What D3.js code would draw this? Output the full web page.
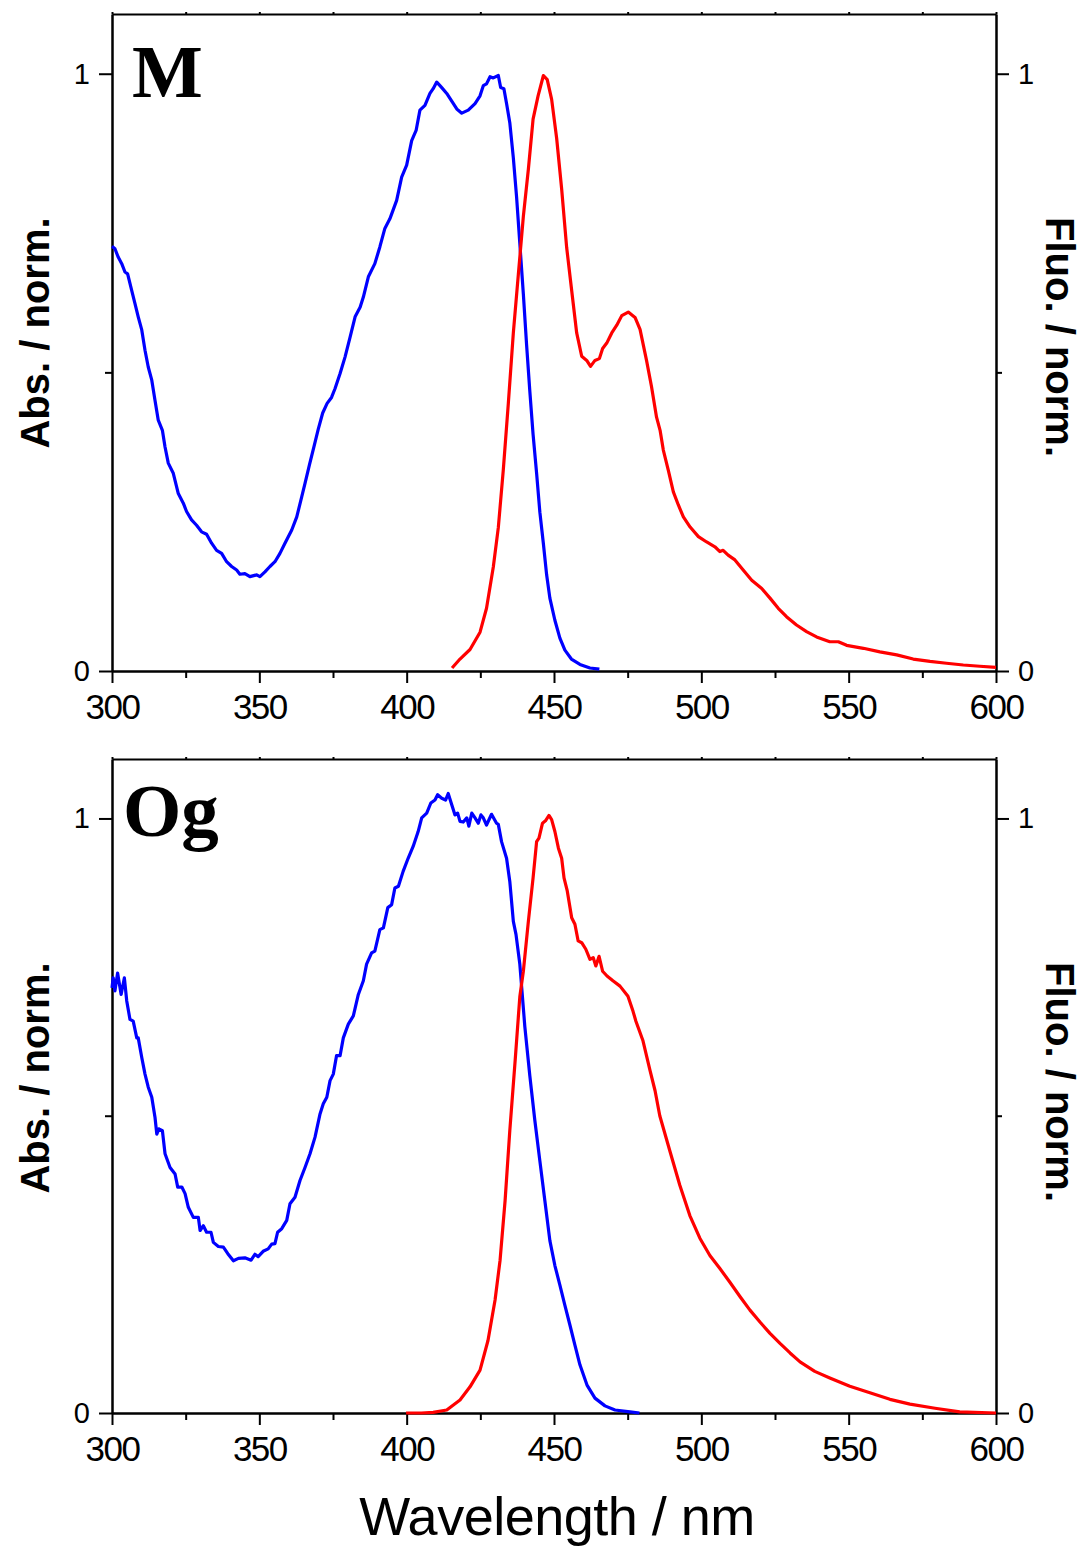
<!DOCTYPE html>
<html>
<head>
<meta charset="utf-8">
<script src="https://cdn.jsdelivr.net/npm/d3@7"></script>
<style>
  body { margin: 0; background: #fff; }
  svg { display: block; }
  .axis path, .axis line { stroke: #000; stroke-width: 2; }
  .axis text { fill: #000; font-family: 'Liberation Sans', Arial, sans-serif; }
  .xlab text { font-size: 35px; letter-spacing: -1.5px; }
  .ylab text { font-size: 29px; }
  .title { font-family: 'Liberation Sans', Arial, sans-serif; fill: #000; }
</style>
</head>
<body>
<script>
// wavelength (nm), normalised intensity
const mAbs = [[300,.711],[301,.707],[302.1,.693],[303.3,.682],[304.4,.668],[305.3,.665],[306.7,.637],[307.8,.615],[308.9,.593],[310.1,.571],[311.2,.537],[312.3,.509],[313.5,.487],[314.6,.453],[315.7,.420],[317.1,.403],[318,.375],[319.1,.348],[320.8,.331],[322.5,.297],[324.2,.281],[325.3,.267],[327,.253],[328.7,.244],[330.4,.233],[332.1,.229],[333.8,.214],[335.5,.202],[337.2,.197],[338.9,.183],[340.6,.175],[342.3,.169],[343.4,.162],[345.1,.163],[346.8,.158],[349.1,.161],[350.2,.158],[351.9,.166],[353.6,.175],[355.3,.183],[357,.197],[358.7,.214],[361,.236],[362.7,.258],[364.4,.292],[365.5,.314],[367,.345],[368.5,.375],[370,.405],[371.5,.432],[373,.448],[374.5,.458],[375.7,.473],[377.4,.498],[379.1,.526],[380.8,.559],[382.5,.593],[384.2,.609],[385.3,.626],[387,.660],[389.2,.682],[390.9,.710],[392.6,.741],[394.3,.757],[396.6,.788],[398.3,.827],[400,.847],[401.7,.888],[403.2,.905],[404.5,.939],[406.2,.947],[407.9,.967],[409,.975],[410.2,.986],[411.3,.980],[412.2,.975],[413.6,.967],[415.3,.954],[417,.941],[418.7,.934],[420.9,.939],[423.2,.950],[424.9,.963],[426,.980],[427.1,.983],[428.3,.995],[429.4,.993],[431.1,.997],[431.9,.977],[433,.975],[433.9,.950],[435,.918],[436.2,.859],[437.3,.794],[438.4,.716],[439.6,.631],[440.7,.546],[441.8,.468],[442.9,.396],[444.1,.331],[445.2,.266],[446.4,.213],[447.5,.161],[448.6,.122],[450.3,.085],[452,.055],[453.7,.035],[455.9,.020],[458.8,.011],[462.2,.005],[465.4,.003]]

const mFlu = [[415.4,.005],[418.1,.020],[421.5,.036],[424.9,.065],[427.1,.105],[429.4,.174],[431.1,.240],[432.8,.337],[434.5,.448],[436.2,.566],[437.9,.664],[439.6,.761],[441.3,.840],[442.9,.924],[444.6,.963],[446.4,.997],[447.7,.990],[449.2,.957],[450.9,.892],[452.6,.807],[454.3,.709],[456,.637],[457.7,.566],[459.4,.527],[461.1,.520],[462.4,.510],[463.9,.520],[465.4,.523],[466.5,.540],[467.9,.549],[469.6,.566],[471.3,.579],[473,.595],[475.2,.601],[477.5,.592],[479.2,.572],[481.4,.520],[483.1,.476],[484.8,.425],[486,.403],[487.1,.370],[488.8,.336],[490.5,.300],[492.2,.278],[493.9,.258],[496.2,.241],[499,.225],[501.8,.216],[504.6,.208],[506.3,.200],[507.4,.202],[509.1,.194],[511.4,.186],[514.2,.169],[517.1,.152],[520.5,.138],[523.3,.122],[526.1,.105],[528.9,.091],[532.3,.077],[535.7,.066],[539.1,.057],[543.6,.049],[546.5,.049],[549.3,.043],[555,.038],[560.6,.032],[566.3,.027],[571.9,.020],[577.6,.016],[583.2,.013],[588.9,.010],[594.5,.008],[600,.006]]

const ogAbs = [[300,.715],[300.4,.732],[301,.710],[301.9,.740],[303.1,.704],[304.2,.732],[305,.693],[306.1,.662],[307.2,.659],[308.4,.631],[308.9,.631],[310.1,.598],[311.2,.570],[312.3,.548],[313.5,.531],[314.6,.497],[315.2,.469],[315.9,.478],[317.1,.475],[318,.436],[319.7,.413],[321.4,.402],[322.3,.380],[323.7,.380],[324.8,.369],[325.9,.346],[327.6,.329],[329.3,.329],[329.9,.307],[331,.315],[332.1,.304],[333.6,.304],[334.4,.287],[336.1,.280],[337.8,.279],[339.3,.268],[341.2,.256],[342.9,.260],[345.1,.261],[347.2,.257],[348.5,.267],[349.6,.263],[351.3,.272],[353,.276],[354.2,.284],[355.3,.285],[356.2,.304],[357.6,.310],[359.3,.324],[360.4,.352],[362.1,.363],[363.8,.391],[365.5,.413],[367.2,.436],[368.9,.464],[370.6,.503],[371.7,.520],[372.9,.531],[374,.559],[375.1,.570],[376.2,.601],[377.4,.601],[378.5,.631],[380.2,.654],[381.9,.668],[383.6,.704],[385.3,.727],[386.4,.755],[388.1,.774],[389.2,.777],[390.9,.813],[392.1,.816],[393.6,.850],[394.9,.855],[396,.883],[397.2,.886],[398.8,.911],[400.5,.933],[402.2,.953],[403.9,.978],[405.1,1.001],[406.8,1.009],[408.2,1.026],[409.6,1.031],[410.5,1.040],[411.9,1.034],[413.2,1.031],[414.1,1.042],[415.3,1.023],[416.4,1.006],[417.3,1.009],[418.1,.995],[419.2,.994],[420.4,1.001],[421.1,.987],[422.1,1.009],[423.2,1.001],[424.3,.992],[425.2,1.006],[426,1.001],[427.1,.989],[428.8,1.007],[430.5,.992],[431.1,.990],[432.2,.961],[433.9,.933],[435,.894],[436.2,.827],[437.1,.805],[438.4,.755],[440.1,.650],[441.8,.567],[443.5,.492],[445.2,.424],[446.9,.357],[448.6,.290],[450.3,.248],[452,.215],[453.7,.181],[455.4,.148],[457.1,.114],[458.8,.081],[461.2,.047],[463.9,.025],[467.3,.012],[470.7,.005],[475.8,.002],[479,0]]

const ogFlu = [[399.8,0],[405,0],[409,.001],[413.6,.005],[418.1,.022],[421.5,.044],[424.9,.072],[427.6,.122],[430,.190],[431.7,.257],[433.4,.357],[435,.475],[436.8,.592],[438.4,.700],[439.6,.743],[441.3,.827],[442.9,.900],[444.1,.961],[444.9,.967],[446.1,.992],[447.1,.996],[448.3,1.005],[449.2,.998],[450.3,.978],[451.5,.950],[452.6,.933],[453.4,.900],[454.5,.878],[456,.833],[457.1,.822],[458.2,.794],[459.4,.791],[460.8,.780],[462.2,.763],[463.3,.766],[464.2,.752],[465.3,.768],[466.5,.743],[468,.735],[470,.727],[472.4,.718],[475.1,.701],[476.8,.676],[477.8,.659],[480.2,.626],[482.6,.576],[484.3,.542],[485.9,.500],[489.3,.441],[492.7,.383],[496.1,.332],[499.5,.294],[502.9,.265],[506.3,.243],[509.7,.220],[513.1,.196],[516.5,.173],[519.9,.153],[523.3,.134],[526.7,.117],[530.1,.101],[533.5,.086],[538.5,.070],[543.6,.059],[550.4,.045],[557.2,.034],[564,.023],[570.8,.015],[579.3,.008],[587.7,.002],[600,0]]

const xMajor = [300, 350, 400, 450, 500, 550, 600]
const xMinor = [325, 375, 425, 475, 525, 575]
const yMajor = [0, 1]
const yMinor = [0.5]
const panelNames = ['M', 'Og']

const width = 1086, height = 1549
const svg = d3.select('body').append('svg')
    .attr('width', width)
    .attr('height', height)

const panels = [
  {name: panelNames[0], abs: mAbs, flu: mFlu, top: 14, bottom: 671, lx: 132, ly: 97, ty: 333},
  {name: panelNames[1], abs: ogAbs, flu: ogFlu, top: 759, bottom: 1413, lx: 123, ly: 836, ty: 1078}
]

const x = d3.scaleLinear().domain([300, 600]).range([112, 996])

panels.forEach(function(p) {
  const y = d3.scaleLinear().domain([0, 1.1]).range([p.bottom, p.top])
  const g = svg.append('g')

  // frame + ticks
  g.append('g')
      .attr('class', 'axis')
      .attr('transform', 'translate(0,' + p.top + ')')
      .call(d3.axisTop(x).tickValues(xMajor.concat(xMinor)).tickSize(2).tickSizeOuter(0).tickFormat(''))

  g.append('g')
      .attr('class', 'axis')
      .attr('transform', 'translate(0,' + p.bottom + ')')
      .call(d3.axisBottom(x).tickValues(xMinor).tickSize(7).tickSizeOuter(0).tickFormat(''))

  g.append('g')
      .attr('class', 'axis xlab')
      .attr('transform', 'translate(0,' + p.bottom + ')')
      .call(d3.axisBottom(x).tickValues(xMajor).tickSize(12).tickPadding(11).tickSizeOuter(0).tickFormat(d3.format('d')))

  g.append('g')
      .attr('class', 'axis ylab')
      .attr('transform', 'translate(112,0)')
      .call(d3.axisLeft(y).tickValues(yMajor).tickSize(13).tickPadding(9).tickSizeOuter(0).tickFormat(d3.format('d')))

  g.append('g')
      .attr('class', 'axis')
      .attr('transform', 'translate(112,0)')
      .call(d3.axisLeft(y).tickValues(yMinor).tickSize(7).tickSizeOuter(0).tickFormat(''))

  g.append('g')
      .attr('class', 'axis ylab')
      .attr('transform', 'translate(996,0)')
      .call(d3.axisRight(y).tickValues(yMajor).tickSize(13).tickPadding(9).tickSizeOuter(0).tickFormat(d3.format('d')))

  g.append('g')
      .attr('class', 'axis')
      .attr('transform', 'translate(996,0)')
      .call(d3.axisRight(y).tickValues(yMinor).tickSize(6).tickSizeOuter(0).tickFormat(''))

  const line = d3.line().x(d => x(d[0])).y(d => y(d[1]))

  g.append('path')
      .datum(p.abs)
      .attr('d', line)
      .attr('fill', 'none')
      .attr('stroke', '#0000ff')
      .attr('stroke-width', 3.2)
      .attr('stroke-linejoin', 'round')

  g.append('path')
      .datum(p.flu)
      .attr('d', line)
      .attr('fill', 'none')
      .attr('stroke', '#ff0000')
      .attr('stroke-width', 3.2)
      .attr('stroke-linejoin', 'round')

  // panel label
  g.append('text')
      .attr('x', p.lx)
      .attr('y', p.ly)
      .style('font-family', "'Liberation Serif', 'Times New Roman', serif")
      .style('font-weight', 'bold')
      .style('font-size', '75px')
      .text(p.name)

  g.append('text')
      .attr('class', 'title')
      .attr('transform', 'translate(49,' + p.ty + ') rotate(-90)')
      .attr('text-anchor', 'middle')
      .style('font-weight', 'bold')
      .style('font-size', '40px')
      .text('Abs. / norm.')

  g.append('text')
      .attr('class', 'title')
      .attr('transform', 'translate(1046,' + (p.ty + 4) + ') rotate(90)')
      .attr('text-anchor', 'middle')
      .style('font-weight', 'bold')
      .style('font-size', '40px')
      .text('Fluo. / norm.')
})

svg.append('text')
    .attr('class', 'title')
    .attr('x', 557)
    .attr('y', 1535)
    .attr('text-anchor', 'middle')
    .style('font-size', '54px')
    .style('letter-spacing', '-0.5px')
    .text('Wavelength / nm')
</script>
</body>
</html>
